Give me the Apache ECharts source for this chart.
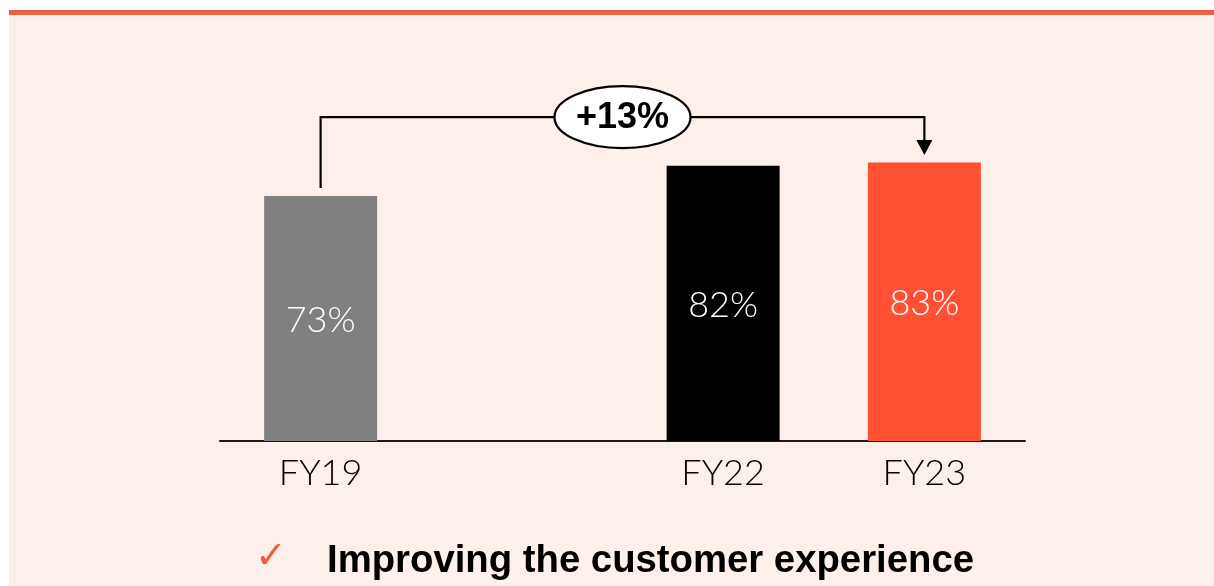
<!DOCTYPE html>
<html>
<head>
<meta charset="utf-8">
<script src="https://cdn.jsdelivr.net/npm/echarts@6/dist/echarts.min.js"></script>
<style>
  html, body { margin: 0; padding: 0; background: #ffffff; }
  #chart { width: 1214px; height: 586px; }
</style>
</head>
<body>
<div id="chart"></div>
<script>
// ---- data ----
const categories = ['FY19', '', 'FY22', 'FY23'];
const values = [73, null, 82, 83];
const barColors = ['#808080', '#808080', '#000000', '#FF5033'];
// bracket annotation: [fromCategoryIndex, toCategoryIndex, startValue, topValue, endValue]
const bracket = [[0, 3, 75.4, 96.5, 85.2]];
const bracketLabel = '+13%';
const footnote = 'Improving the customer experience';

const chart = echarts.init(document.getElementById('chart'), null, { renderer: 'canvas' });

const labelFont = 'Lato, "Liberation Sans", sans-serif';

const option = {
  backgroundColor: '#ffffff',
  animation: false,
  graphic: [
    { type: 'rect', left: 9, top: 15, shape: { width: 1205, height: 571 }, style: { fill: '#FDEFEA' }, z: -10 },
    { type: 'rect', left: 9, top: 10, shape: { width: 1205, height: 5 }, style: { fill: '#E8603E' }, z: -9 },
    { type: 'text', left: 255, top: 539, style: { text: '\u2713', fill: '#E8603E', font: 'bold 38px "DejaVu Sans", sans-serif' } },
    { type: 'text', left: 327, top: 542, style: { text: footnote, fill: '#000000', font: 'bold 38.3px "Liberation Sans", Arial, sans-serif' } }
  ],
  grid: { left: 220, right: 189, top: 105.4, bottom: 145, containLabel: false },
  xAxis: {
    type: 'category',
    data: categories,
    axisLine: { show: true, lineStyle: { color: '#1a1a1a', width: 2 } },
    axisTick: { show: false },
    axisLabel: { color: '#000000', fontSize: 36, fontWeight: 300, fontFamily: labelFont, margin: 14 },
    splitLine: { show: false }
  },
  yAxis: {
    type: 'value', min: 0, max: 100, show: false,
    splitLine: { show: false }
  },
  series: [
    {
      type: 'bar',
      barWidth: 113,
      data: values.map((v, i) => ({ value: v, itemStyle: { color: barColors[i] } })),
      label: {
        show: true,
        position: 'inside',
        formatter: p => p.value + '%',
        color: '#ffffff',
        fontSize: 36,
        fontWeight: 300,
        fontFamily: labelFont,
        offset: [0, 2]
      }
    },
    {
      type: 'custom',
      data: bracket,
      z: 10,
      renderItem: function (params, api) {
        const from = api.value(0), to = api.value(1);
        const pStart = api.coord([from, api.value(2)]);
        const pTopL = api.coord([from, api.value(3)]);
        const pTopR = api.coord([to, api.value(3)]);
        const pEnd = api.coord([to, api.value(4)]);
        const head = 15, hw = 8;
        const cx = (pTopL[0] + pTopR[0]) / 2, cy = pTopL[1];
        const rx = 68, ry = 31;
        const d = `M ${cx - rx} ${cy} A ${rx} ${ry} 0 1 0 ${cx + rx} ${cy} A ${rx} ${ry} 0 1 0 ${cx - rx} ${cy} Z`;
        return {
          type: 'group',
          children: [
            {
              type: 'polyline',
              shape: { points: [pStart, pTopL, pTopR, [pEnd[0], pEnd[1] - head]] },
              style: { stroke: '#000000', lineWidth: 2.2, fill: null }
            },
            {
              type: 'polygon',
              shape: { points: [[pEnd[0] - hw, pEnd[1] - head], [pEnd[0] + hw, pEnd[1] - head], [pEnd[0], pEnd[1]]] },
              style: { fill: '#000000' }
            },
            {
              type: 'path',
              shape: { pathData: d },
              style: { fill: '#ffffff', stroke: '#000000', lineWidth: 2.2 }
            },
            {
              type: 'text',
              x: cx, y: cy + 1,
              style: {
                text: bracketLabel,
                fill: '#000000',
                font: 'bold 36px "Liberation Sans", Arial, sans-serif',
                align: 'center',
                verticalAlign: 'middle'
              }
            }
          ]
        };
      }
    }
  ]
};

chart.setOption(option);
</script>
</body>
</html>
